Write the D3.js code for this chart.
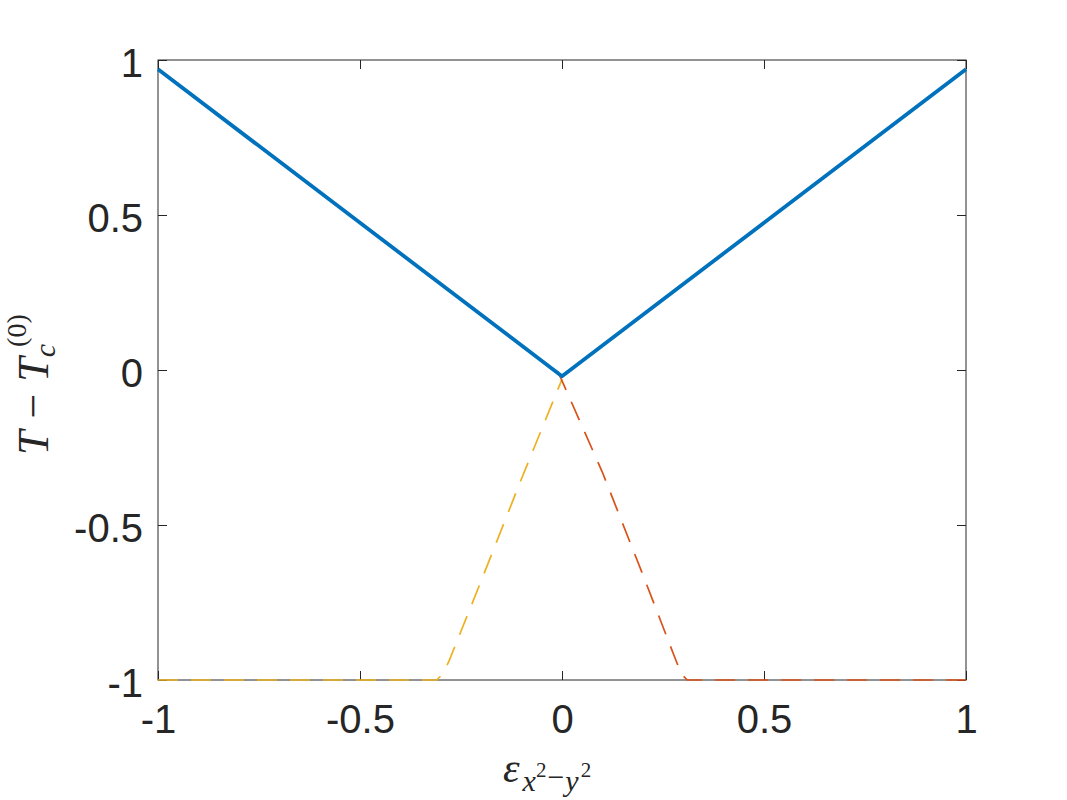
<!DOCTYPE html>
<html>
<head>
<meta charset="utf-8">
<script src="https://cdn.jsdelivr.net/npm/d3@7"></script>
<style>
  body { margin: 0; background: #fff; }
  svg { display: block; }
  .tick text { font-family: "Liberation Sans", Arial, sans-serif; font-size: 40px; fill: #262626; }
  .tick line { stroke: #262626; }
</style>
</head>
<body>
<svg id="chart" width="1067" height="800"></svg>
<script>
// data
const xTicks = [-1, -0.5, 0, 0.5, 1];
const xTickLabels = ["-1", "-0.5", "0", "0.5", "1"];
const yTicks = [-1, -0.5, 0, 0.5, 1];
const yTickLabels = ["-1", "-0.5", "0", "0.5", "1"];

// solid blue curve
const blueX = [-1, -0.5, 0, 0.5, 1];
const blueY = [0.97, 0.475, -0.02, 0.475, 0.97];
// dashed red-orange curve (right branch)
const redX = [-0.01, 0.1, 0.2, 0.28, 0.295, 0.31, 0.5, 1];
const redY = [-0.005, -0.33, -0.66, -0.93, -0.98, -1, -1, -1];
// dashed yellow curve (left branch)
const yellowX = [-1, -0.5, -0.31, -0.295, -0.28, -0.2, -0.1, 0];
const yellowY = [-1, -1, -1, -0.98, -0.94, -0.68, -0.35, -0.03];

const margin = { top: 60, right: 101, bottom: 120, left: 158 },
      width = 1067 - margin.left - margin.right,
      height = 800 - margin.top - margin.bottom;

const svg = d3.select("#chart");
const g = svg.append("g")
    .attr("transform", `translate(${margin.left},${margin.top})`);

const x = d3.scaleLinear().domain([-1, 1]).range([0, width]);
const y = d3.scaleLinear().domain([-1, 1]).range([height, 0]);

// axes, ticks pointing inward on all four sides
g.append("g")
    .attr("transform", `translate(0,${height})`)
    .call(d3.axisBottom(x).tickValues(xTicks).tickSizeInner(-9).tickSizeOuter(0)
        .tickPadding(25).tickFormat((d, i) => xTickLabels[i]));
g.append("g")
    .call(d3.axisTop(x).tickValues(xTicks).tickSizeInner(-9).tickSizeOuter(0)
        .tickFormat(""));
g.append("g")
    .call(d3.axisLeft(y).tickValues(yTicks).tickSizeInner(-9).tickSizeOuter(0)
        .tickPadding(15).tickFormat((d, i) => yTickLabels[i]))
    .selectAll("text").attr("dy", "0.42em");
g.append("g")
    .attr("transform", `translate(${width},0)`)
    .call(d3.axisRight(y).tickValues(yTicks).tickSizeInner(-9).tickSizeOuter(0)
        .tickFormat(""));

g.selectAll(".domain").remove();

// box
g.append("rect")
    .attr("width", width)
    .attr("height", height)
    .attr("fill", "none")
    .attr("stroke", "#262626")
    .attr("stroke-width", 1);

const line = d3.line()
    .x(d => x(d[0]))
    .y(d => y(d[1]));

g.append("path")
    .datum(yellowX.map((v, i) => [v, yellowY[i]]))
    .attr("d", line)
    .attr("fill", "none")
    .attr("stroke", "#EDB120")
    .attr("stroke-width", 1.7)
    .attr("stroke-dasharray", "20,13");

g.append("path")
    .datum(redX.map((v, i) => [v, redY[i]]))
    .attr("d", line)
    .attr("fill", "none")
    .attr("stroke", "#D95319")
    .attr("stroke-width", 1.7)
    .attr("stroke-dasharray", "20,13");

g.append("path")
    .datum(blueX.map((v, i) => [v, blueY[i]]))
    .attr("d", line)
    .attr("fill", "none")
    .attr("stroke", "#0072BD")
    .attr("stroke-width", 3.8)
    .attr("stroke-linejoin", "round");

// x label: epsilon_{x^2 - y^2}
const xl = svg.append("text")
    .attr("x", 503)
    .attr("y", 782)
    .attr("font-family", "'Liberation Serif', 'DejaVu Serif', serif")
    .attr("font-style", "italic")
    .attr("fill", "#262626");
xl.append("tspan").attr("font-size", 42).text("ε");
xl.append("tspan").attr("font-size", 30).attr("dx", 3).attr("dy", 9).text("x");
xl.append("tspan").attr("font-size", 21).attr("font-style", "normal").attr("dy", -14).text("2");
xl.append("tspan").attr("font-size", 30).attr("font-style", "normal").attr("dx", 1).attr("dy", 10).text("−");
xl.append("tspan").attr("font-size", 30).attr("dx", 1).attr("dy", 4).text("y");
xl.append("tspan").attr("font-size", 21).attr("font-style", "normal").attr("dx", 2).attr("dy", -14).text("2");

// y label: T - T_c^{(0)}
const yl = svg.append("text")
    .attr("transform", "translate(48,455) rotate(-90)")
    .attr("font-family", "'Liberation Serif', 'DejaVu Serif', serif")
    .attr("font-style", "italic")
    .attr("fill", "#262626");
yl.append("tspan").attr("font-size", 44).text("T");
yl.append("tspan").attr("font-size", 44).attr("font-style", "normal").attr("dx", 12).text("−");
yl.append("tspan").attr("font-size", 44).attr("dx", 12).text("T");
yl.append("tspan").attr("font-size", 30).attr("dy", 7).text("c");
yl.append("tspan").attr("font-size", 28).attr("font-style", "normal").attr("dx", -3).attr("dy", -29).text("(0)");
</script>
</body>
</html>
